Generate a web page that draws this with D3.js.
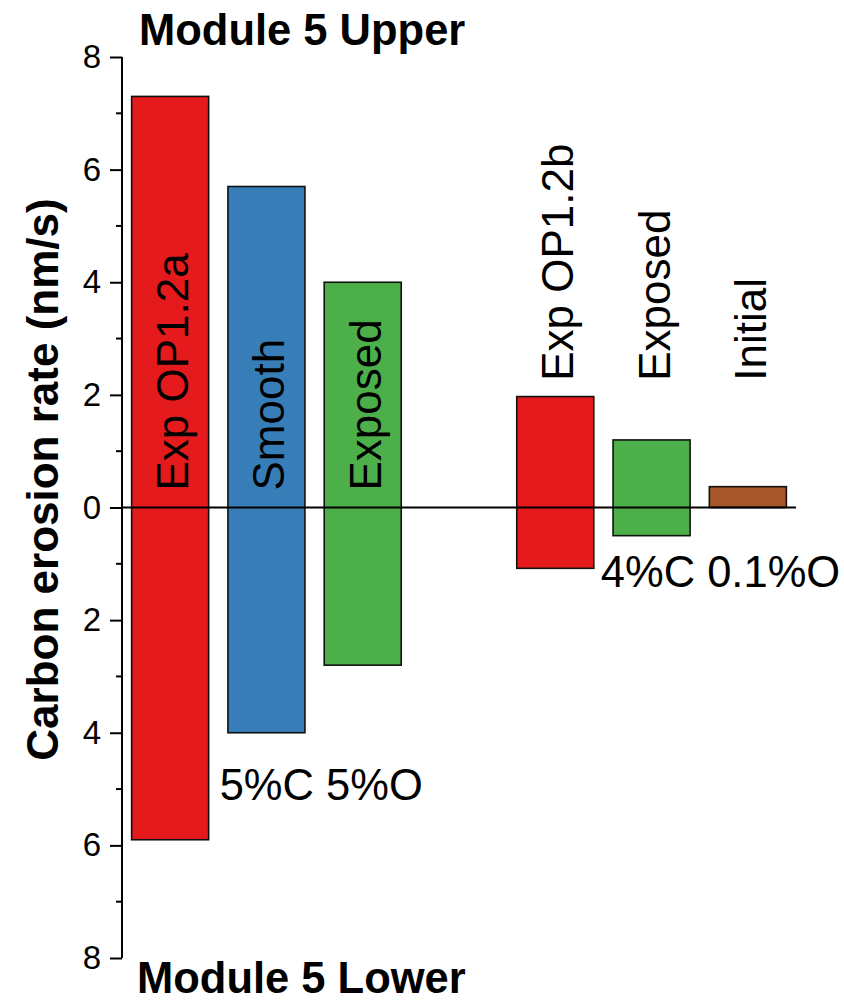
<!DOCTYPE html>
<html>
<head>
<meta charset="utf-8">
<script src="https://cdn.jsdelivr.net/npm/d3@7/dist/d3.min.js"></script>
<style>
  html, body { margin: 0; padding: 0; background: #fff; }
  svg { display: block; font-family: "Liberation Sans", Arial, sans-serif; }
</style>
</head>
<body>
<svg id="chart" width="844" height="1002"></svg>
<script>
// Carbon erosion rates, upper (positive) and lower (negative) module faces
const categories = ["Exp OP1.2a", "Smooth", "Exposed", "Exp OP1.2b", "Exposed", "Initial"];
const slots = [1, 2, 3, 5, 6, 7];
const upperRates = [7.3, 5.7, 4.0, 1.97, 1.2, 0.37];
const lowerRates = [5.9, 4.0, 2.8, 1.08, 0.5, 0];
const barColors = ["#e41a1c", "#377eb8", "#4daf4a", "#e41a1c", "#4daf4a", "#a65628"];
const labelInside = [true, true, true, false, false, false];
const majorTicks = [-8, -6, -4, -2, 0, 2, 4, 6, 8];
const minorTicks = [-7, -5, -3, -1, 1, 3, 5, 7];
const notes = [
  { text: "5%C 5%O", slot: 1, value: -5.2 },
  { text: "4%C 0.1%O", slot: 5, value: -1.41 }
];

const svg = d3.select("#chart");

const x = d3.scaleLinear().domain([0.5, 7.5]).range([122, 796]);
const y = d3.scaleLinear().domain([-8, 8]).range([958, 57]);
const barW = x(0.8) - x(0);

// bars spanning lower to upper rate
svg.append("g").selectAll("rect")
  .data(categories.map((c, i) => ({ c, i })))
  .join("rect")
  .attr("x", d => x(slots[d.i]) - barW / 2)
  .attr("y", d => y(upperRates[d.i]))
  .attr("width", barW)
  .attr("height", d => y(-lowerRates[d.i]) - y(upperRates[d.i]))
  .attr("fill", d => barColors[d.i])
  .attr("stroke", "#111")
  .attr("stroke-width", 1.6);

// zero line
svg.append("line")
  .attr("x1", x(0.5)).attr("x2", x(7.5))
  .attr("y1", y(0)).attr("y2", y(0))
  .attr("stroke", "#000").attr("stroke-width", 2);

// left axis, labelled with magnitudes
const axis = d3.axisLeft(y)
  .tickValues(majorTicks)
  .tickFormat(d => Math.abs(d))
  .tickSize(12)
  .tickPadding(9);
const ga = svg.append("g").attr("transform", `translate(${x(0.5)},0)`).call(axis);
ga.select(".domain").attr("stroke", "#000").attr("stroke-width", 2).attr("d", `M0,${y(8)}V${y(-8)}`);
ga.selectAll(".tick line").attr("stroke", "#000").attr("stroke-width", 2);
ga.selectAll(".tick text").attr("font-size", 33).attr("fill", "#000")
  .attr("font-family", "Liberation Sans, Arial, sans-serif");
ga.selectAll(".minor").data(minorTicks).join("line")
  .attr("class", "minor")
  .attr("x1", -6).attr("x2", 0)
  .attr("y1", d => y(d)).attr("y2", d => y(d))
  .attr("stroke", "#000").attr("stroke-width", 2);

// category labels, rotated
svg.append("g").selectAll("text")
  .data(categories.map((c, i) => ({ c, i })))
  .join("text")
  .attr("transform", d => {
    const ty = labelInside[d.i] ? y(0) - 17 : y(2.25);
    return `translate(${x(slots[d.i]) + 18},${ty}) rotate(-90)`;
  })
  .attr("font-size", 44)
  .attr("fill", "#000")
  .text(d => d.c);

// composition notes, just right of the bar they describe
svg.append("g").selectAll("text")
  .data(notes)
  .join("text")
  .attr("x", (d, i) => x(d.slot) + barW / 2 + (i === 0 ? 11 : 7))
  .attr("y", d => y(d.value))
  .attr("font-size", 43.5)
  .attr("fill", "#000")
  .text(d => d.text);

// face titles
svg.append("text").attr("x", 139).attr("y", 45)
  .attr("font-size", 43.5).attr("font-weight", "bold").text("Module 5 Upper");
svg.append("text").attr("x", 137).attr("y", 993)
  .attr("font-size", 43.5).attr("font-weight", "bold").text("Module 5 Lower");

// y axis title
svg.append("text")
  .attr("transform", `translate(58,${y(0) - 28}) rotate(-90)`)
  .attr("text-anchor", "middle")
  .attr("font-size", 44).attr("font-weight", "bold")
  .text("Carbon erosion rate (nm/s)");
</script>
</body>
</html>
